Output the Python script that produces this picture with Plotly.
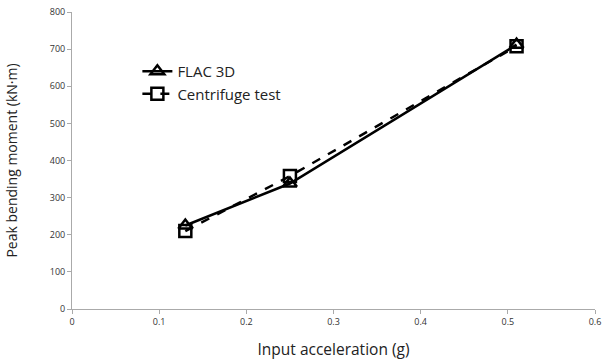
import plotly.graph_objects as go

accel = [0.13, 0.25, 0.51]
flac_3d = [225, 338, 712]
centrifuge = [210, 358, 708]

x_ticks = [0, 0.1, 0.2, 0.3, 0.4, 0.5, 0.6]
x_tick_labels = ["0", "0.1", "0.2", "0.3", "0.4", "0.5", "0.6"]
y_ticks = [0, 100, 200, 300, 400, 500, 600, 700, 800]

fig = go.Figure()
fig.add_trace(go.Scatter(
    x=accel, y=flac_3d, name="FLAC 3D", mode="lines+markers",
    line=dict(color="black", width=2.5),
    marker=dict(symbol="triangle-up-open", size=12, color="black", line=dict(width=2.5)),
))
fig.add_trace(go.Scatter(
    x=accel, y=centrifuge, name="Centrifuge test", mode="lines+markers",
    line=dict(color="black", width=2.5, dash="dash"),
    marker=dict(symbol="square-open", size=12, color="black", line=dict(width=2.5)),
))

fig.update_layout(
    width=603, height=360,
    margin=dict(l=72, r=8, t=12, b=51),
    paper_bgcolor="white", plot_bgcolor="white",
    font=dict(family="Open Sans, Liberation Sans, sans-serif", color="#222"),
    showlegend=True,
    legend=dict(x=0.125, y=0.855, xanchor="left", yanchor="top",
                font=dict(size=15, color="#222"), bgcolor="rgba(0,0,0,0)",
                itemwidth=30, tracegroupgap=8),
    xaxis=dict(range=[0, 0.6], tickvals=x_ticks, ticktext=x_tick_labels,
               showgrid=False, zeroline=False, showline=True, linecolor="#aaa",
               ticks="outside", ticklen=4, tickcolor="#aaa", automargin=False,
               tickfont=dict(size=9, color="#333"),
               title=dict(text="Input acceleration (g)", font=dict(size=15.5, color="#222"), standoff=20)),
    yaxis=dict(range=[0, 800], tickvals=y_ticks,
               showgrid=False, zeroline=False, showline=True, linecolor="#aaa",
               ticks="outside", ticklen=4, tickcolor="#aaa", automargin=False,
               tickfont=dict(size=9, color="#333"),
               title=dict(text="Peak bending moment (kN·m)", font=dict(size=14, color="#222"), standoff=28)),
)

fig.write_html("out.html")
